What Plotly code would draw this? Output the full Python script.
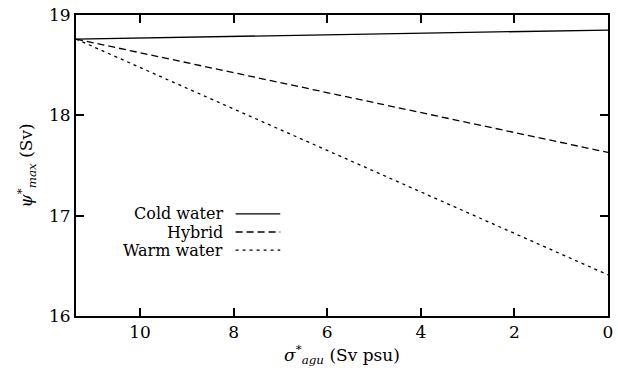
import plotly.graph_objects as go

sigma = [11.37, 0.0]
cold = [18.76, 18.85]
hybrid = [18.76, 17.63]
warm = [18.76, 16.41]

names = ["Cold water", "Hybrid", "Warm water"]
series = [cold, hybrid, warm]
dashes = ["solid", "7px,4px", "3px,4px"]

xticks = [10, 8, 6, 4, 2, 0]
yticks = [16, 17, 18, 19]

font = "DejaVu Serif"

fig = go.Figure()
for n, s, d in zip(names, series, dashes):
    fig.add_trace(go.Scatter(x=sigma, y=s, mode="lines", name=n,
                             line=dict(color="black", width=1.3, dash=d),
                             showlegend=False))

# custom legend (text left of sample line)
ly = [0.339, 0.279, 0.219]
for n, d, y in zip(names, dashes, ly):
    fig.add_annotation(x=0.281, y=y, xref="paper", yref="paper", text=n,
                       showarrow=False, xanchor="right", yanchor="middle",
                       font=dict(family=font, size=16, color="black"))
    fig.add_shape(type="line", xref="paper", yref="paper", x0=0.300, x1=0.384,
                  y0=y, y1=y, line=dict(color="black", width=1.3, dash=d))

axis_common = dict(showgrid=False, zeroline=False, showline=True, linecolor="black",
                   linewidth=2, mirror="ticks", ticks="inside", ticklen=8,
                   tickwidth=1.5, tickcolor="black",
                   tickfont=dict(family=font, size=17, color="black"))

fig.update_xaxes(range=[11.37, 0], tickvals=xticks,
                 title=dict(text="<i>σ</i><sup>*</sup><sub><i>agu</i></sub> (Sv psu)",
                            font=dict(family=font, size=17, color="black"), standoff=2),
                 **axis_common)
fig.update_yaxes(range=[16, 19], tickvals=yticks,
                 title=dict(text="<i>ψ</i><sup>*</sup><sub><i>max</i></sub> (Sv)",
                            font=dict(family=font, size=17, color="black"), standoff=12),
                 **axis_common)

fig.update_layout(width=618, height=374, margin=dict(l=76, r=5, t=15, b=58),
                  plot_bgcolor="white", paper_bgcolor="white",
                  font=dict(family=font, size=17, color="black"))

fig.write_html("out.html")
